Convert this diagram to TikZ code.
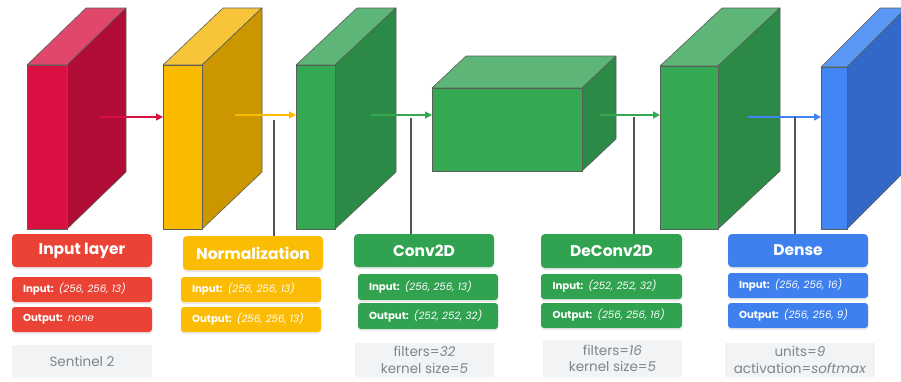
\documentclass[tikz,border=0pt]{standalone}
\usepackage{fontspec}
\setmainfont{Poppins}
\usetikzlibrary{arrows.meta,shadows}
\definecolor{redF}{HTML}{DA0F42}
\definecolor{redS}{HTML}{B00C35}
\definecolor{redT}{HTML}{E0476B}
\definecolor{redH}{HTML}{EA4335}
\definecolor{yelF}{HTML}{F9BA00}
\definecolor{yelS}{HTML}{CC9600}
\definecolor{yelT}{HTML}{F8C53A}
\definecolor{yelH}{HTML}{FBBC04}
\definecolor{grnF}{HTML}{34A853}
\definecolor{grnS}{HTML}{2B8A45}
\definecolor{grnT}{HTML}{5DB677}
\definecolor{grnH}{HTML}{31A24F}
\definecolor{bluF}{HTML}{4285F4}
\definecolor{bluS}{HTML}{3468C8}
\definecolor{bluT}{HTML}{5B97F5}
\definecolor{bluH}{HTML}{3E80EE}
\definecolor{edgeC}{HTML}{5A5F5A}
\definecolor{noteBg}{HTML}{F1F3F4}
\definecolor{noteTx}{HTML}{80868B}
\definecolor{lineC}{HTML}{505355}
% #1 x1, #2 y1, #3 x2, #4 y2, #5 dx, #6 dy, #7 colour prefix
\newcommand{\mycuboid}[7]{%
  \filldraw[fill=#7T,draw=edgeC,line width=0.6pt,line join=round] (#1,#2) -- (#1+#5,#2-#6) -- (#3+#5,#2-#6) -- (#3,#2) -- cycle;
  \filldraw[fill=#7S,draw=edgeC,line width=0.6pt,line join=round] (#3,#2) -- (#3+#5,#2-#6) -- (#3+#5,#4-#6) -- (#3,#4) -- cycle;
  \filldraw[fill=#7F,draw=edgeC,line width=0.6pt] (#1,#2) rectangle (#3,#4);
}
\begin{document}
\begin{tikzpicture}[x=1pt,y=-1pt,
  hdr/.style={fill=#1,rounded corners=4pt,minimum width=140pt,minimum height=33pt,inner sep=0pt,
    text=white,font=\fontsize{15.5}{17}\selectfont\bfseries,
    drop shadow={opacity=0.18,shadow xshift=0pt,shadow yshift=-2pt}},
  rowbox/.style={fill=#1,rounded corners=3pt,minimum width=140pt,minimum height=25pt,inner sep=0pt,
    text=white,font=\fontsize{10.2}{12}\selectfont,text width=118pt,align=left,xshift=0pt,
    drop shadow={opacity=0.15,shadow xshift=0pt,shadow yshift=-2pt}},
  note/.style={fill=noteBg,minimum width=140pt,minimum height=34pt,inner sep=0pt,
    text=noteTx,font=\fontsize{13.5}{16.5}\selectfont,align=center},
  flow/.style={draw=#1,line width=1.4pt,-{Triangle[length=7pt,width=7pt]}},
  stem/.style={draw=lineC,line width=1.6pt}]
\useasboundingbox (0,0) rectangle (901,381);
\fill[white] (0,0) rectangle (901,381);

% blocks
\mycuboid{27}{65}{67}{229}{59}{57}{red}
\mycuboid{163}{65}{202}{229}{60}{57}{yel}
\mycuboid{296}{65}{335}{229}{61}{57}{grn}
\mycuboid{432}{88}{582}{171}{34}{32}{grn}
\mycuboid{660}{66}{718}{229}{62}{58}{grn}
\begin{scope}
\clip (0,0) rectangle (901,381);
\mycuboid{821}{67}{847}{229}{59}{59}{blu}
\end{scope}

% arrow coordinates
\coordinate (a1s) at (100,117); \coordinate (a1e) at (163,117);
\coordinate (a2s) at (235,115); \coordinate (a2e) at (296,115);
\coordinate (a3s) at (371,115); \coordinate (a3e) at (432,115);
\coordinate (a4s) at (600,115); \coordinate (a4e) at (660,115);
\coordinate (a5s) at (748,117); \coordinate (a5e) at (821,117);
\draw[flow=redF] (a1s) -- (a1e);
\draw[flow=yelF] (a2s) -- (a2e);
\draw[flow=grnF] (a3s) -- (a3e);
\draw[flow=grnF] (a4s) -- (a4e);
\draw[flow=bluF] (a5s) -- (a5e);

% headers
\node[hdr=redH] (inH) at (82,250.5) {Input layer};
\node[hdr=yelH,minimum height=34pt] (noH) at (253,253) {Normalization};
\node[hdr=grnH] (cvH) at (424,250.5) {Conv2D};
\node[hdr=grnH,minimum width=141pt,minimum height=34pt] (dcH) at (611.5,251) {DeConv2D};
\node[hdr=bluH] (dnH) at (798,250.5) {Dense};

% rows
\node[rowbox=redH] (inI) at (82,289.5) {\textbf{Input:} \textit{(256, 256, 13)}};
\node[rowbox=redH] (inO) at (82,319.5) {\textbf{Output:} \textit{none}};
\node[rowbox=yelH] (noI) at (251,289.5) {\textbf{Input:} \textit{(256, 256, 13)}};
\node[rowbox=yelH] (noO) at (251,319.5) {\textbf{Output:} \textit{(256, 256, 13)}};
\node[rowbox=grnH,minimum height=26pt] (cvI) at (428,287) {\textbf{Input:} \textit{(256, 256, 13)}};
\node[rowbox=grnH,minimum height=26pt] (cvO) at (428,316) {\textbf{Output:} \textit{(252, 252, 32)}};
\node[rowbox=grnH,minimum width=141pt] (dcI) at (611.5,286.5) {\textbf{Input:} \textit{(252, 252, 32)}};
\node[rowbox=grnH,minimum width=141pt] (dcO) at (611.5,315.5) {\textbf{Output:} \textit{(256, 256, 16)}};
\node[rowbox=bluH] (dnI) at (798,285.5) {\textbf{Input:} \textit{(256, 256, 16)}};
\node[rowbox=bluH] (dnO) at (798,315.5) {\textbf{Output:} \textit{(256, 256, 9)}};

% notes
\node[note,minimum height=32pt] (inN) at (82,361) {Sentinel 2};
\node[note,minimum width=139pt] (cvN) at (424.5,360) {filters=\textit{32}\\kernel size=\textit{5}};
\node[note,minimum width=139pt,minimum height=37pt] (dcN) at (612.5,358.5) {filters=\textit{16}\\kernel size=\textit{5}};
\node[note,minimum width=150pt] (dnN) at (800,360) {units=\textit{9}\\activation=\textit{softmax}};

% stems
\coordinate (s1) at (274,120);
\coordinate (s2) at (411,118);
\coordinate (s3) at (634,117);
\coordinate (s4) at (795,117);
\draw[stem] (s1) -- (s1 |- noH.north);
\draw[stem] (s2) -- (s2 |- cvH.north);
\draw[stem] (s3) -- (s3 |- dcH.north);
\draw[stem] (s4) -- (s4 |- dnH.north);
\end{tikzpicture}
\end{document}
